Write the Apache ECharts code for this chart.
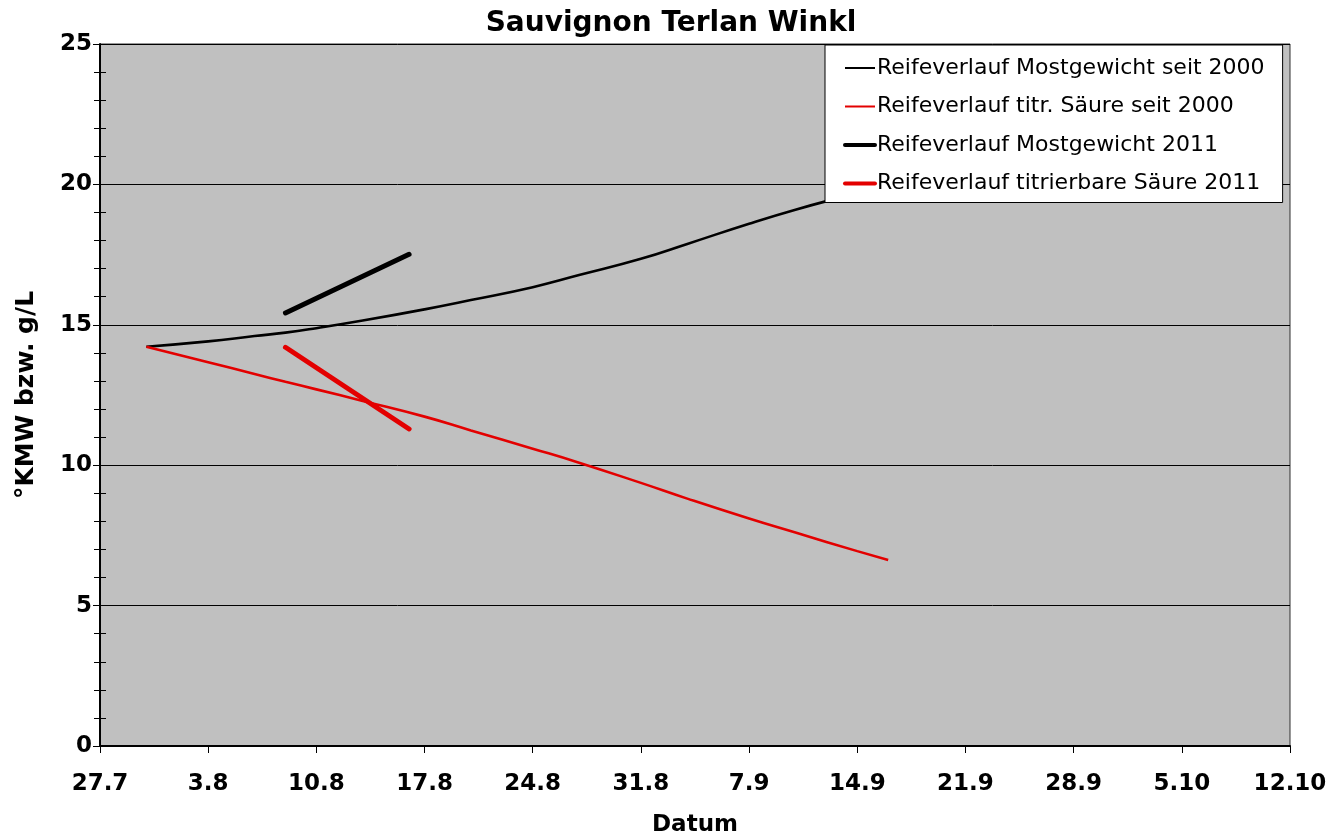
<!DOCTYPE html>
<html>
<head>
<meta charset="utf-8">
<script src="https://cdn.jsdelivr.net/npm/echarts@6/dist/echarts.min.js"></script>
<style>html,body{margin:0;padding:0;background:#fff}#c{width:1342px;height:836px}</style>
</head>
<body>
<div id="c"></div>
<script>
// Tick labels of the date axis (every 7 days, starting 27.7)
const tickLabels = ['27.7','3.8','10.8','17.8','24.8','31.8','7.9','14.9','21.9','28.9','5.10','12.10'];
// Days since 27.7 for the long-term curves
const daysLong = [3, 7, 10, 12, 14, 17, 21, 24, 28, 31, 35, 38, 42, 45, 49, 51];
const mostSeit2000 = [14.22, 14.41, 14.60, 14.72, 14.88, 15.15, 15.55, 15.88, 16.34, 16.77, 17.35, 17.88, 18.60, 19.10, 19.70, 20.02];
const saeureSeit2000 = [14.22, 13.67, 13.25, 12.97, 12.70, 12.29, 11.73, 11.24, 10.59, 10.09, 9.37, 8.81, 8.10, 7.60, 6.94, 6.62];
// 2011 measurements
const days2011 = [12, 20];
const most2011 = [15.42, 17.51];
const saeure2011 = [14.20, 11.29];

const names = ['Reifeverlauf Mostgewicht seit 2000','Reifeverlauf titr. Säure seit 2000','Reifeverlauf Mostgewicht 2011','Reifeverlauf titrierbare Säure 2011'];
const RED = '#e30000';
const pair = (xs, ys) => xs.map((x, i) => [x, ys[i]]);

const chart = echarts.init(document.getElementById('c'), null, {renderer: 'canvas'});
const bold = {fontFamily: 'DejaVu Sans', fontWeight: 'bold', color: '#000'};
chart.setOption({
  animation: false,
  backgroundColor: '#fff',
  title: {
    text: 'Sauvignon Terlan Winkl', left: 'center', top: 5,
    textStyle: Object.assign({fontSize: 28}, bold)
  },
  grid: {left: 100, right: 52, top: 44, bottom: 90, outerBoundsMode: 'none', containLabel: false, show: true, backgroundColor: '#c0c0c0', borderColor: '#303030', borderWidth: 1},
  legend: {
    orient: 'vertical', left: 825, top: 45,
    backgroundColor: '#fff', borderColor: '#000', borderWidth: 1,
    padding: [12, 18, 8, 18],
    itemWidth: 30, itemHeight: 14, itemGap: 16.5,
    itemStyle: {opacity: 0},
    textStyle: {fontFamily: 'DejaVu Sans', fontSize: 22, color: '#000', padding: [0,0,0,-3]},
    data: [
      {name: names[0], lineStyle: {width: 2}},
      {name: names[1], lineStyle: {width: 2}},
      {name: names[2], lineStyle: {width: 4}},
      {name: names[3], lineStyle: {width: 4}}
    ]
  },
  xAxis: {
    type: 'value', min: 0, max: 77, interval: 7,
    name: 'Datum', nameLocation: 'middle', nameGap: 68,
    nameTextStyle: Object.assign({fontSize: 23}, bold),
    axisLine: {show: true, onZero: false, lineStyle: {color: '#000', width: 2}},
    axisTick: {show: true, length: 7, lineStyle: {color: '#000'}},
    axisLabel: Object.assign({fontSize: 23, margin: 27, formatter: v => tickLabels[Math.round(v / 7)] || ''}, bold),
    splitLine: {show: false}
  },
  yAxis: [{
    type: 'value', min: 0, max: 25, interval: 5,
    name: '°KMW bzw. g/L', nameLocation: 'middle', nameGap: 61, nameRotate: 90,
    nameTextStyle: Object.assign({fontSize: 25}, bold),
    axisLine: {show: true, onZero: false, lineStyle: {color: '#000', width: 2}},
    axisTick: {show: true, length: 7, lineStyle: {color: '#000'}},
    minorTick: {show: true, splitNumber: 5, length: 6, lineStyle: {color: '#000'}},
    axisLabel: Object.assign({fontSize: 23, margin: 8}, bold),
    splitLine: {show: true, lineStyle: {color: '#000', width: 1}}
  }, {
    type: 'value', min: 0, max: 25, interval: 1, position: 'left',
    axisLine: {show: false}, axisLabel: {show: false}, splitLine: {show: false},
    axisTick: {show: true, inside: true, length: 6, lineStyle: {color: '#000'}}
  }],
  series: [
    {name: names[0], type: 'line', smooth: true, symbol: 'none', data: pair(daysLong, mostSeit2000), lineStyle: {color: '#000', width: 2.6}, itemStyle: {color: '#000'}, z: 2},
    {name: names[1], type: 'line', smooth: true, symbol: 'none', data: pair(daysLong, saeureSeit2000), lineStyle: {color: RED, width: 2.6}, itemStyle: {color: RED}, z: 2},
    {name: names[2], type: 'line', symbol: 'none', data: pair(days2011, most2011), lineStyle: {color: '#000', width: 5, cap: 'round'}, itemStyle: {color: '#000'}, z: 3},
    {name: names[3], type: 'line', symbol: 'none', data: pair(days2011, saeure2011), lineStyle: {color: RED, width: 5, cap: 'round'}, itemStyle: {color: RED}, z: 3}
  ]
});
</script>
</body>
</html>
